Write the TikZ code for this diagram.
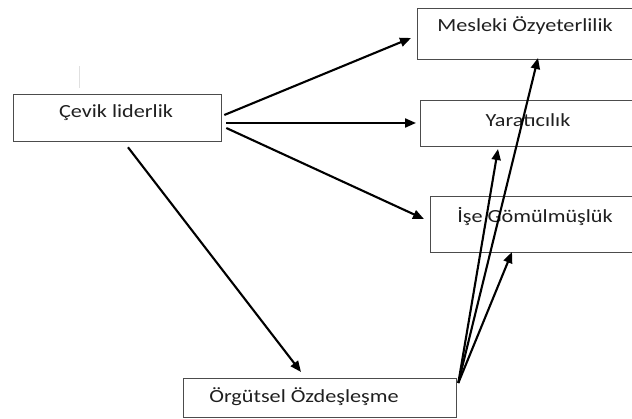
\documentclass[tikz,border=0pt]{standalone}
\usepackage{fontspec}
\setmainfont{Carlito}
\usetikzlibrary{arrows.meta,calc}
\newcommand{\widetxt}[1]{\scalebox{1.2}[1]{#1}}
\begin{document}
\begin{tikzpicture}[x=1pt,y=-1pt,
  box/.style={draw=black!70,line width=1.3pt,rectangle,inner sep=0pt,anchor=north west},
  lbl/.style={font=\fontsize{18.5}{20}\selectfont,text=black!88,inner sep=0pt},
  arr/.style={draw=black,line width=2.1pt,-{Triangle[length=11pt,width=9pt]}}]
\useasboundingbox (0,0) rectangle (632,419);
\clip (0,0) rectangle (632,419);
% faint mark
\draw[black!12,line width=1pt] (79,66) -- (79,88);
% boxes
\node[box,minimum width=208pt,minimum height=47pt] (cevik) at (13,94) {};
\node[box,minimum width=230pt,minimum height=51pt] (mes) at (417,8) {};
\node[box,minimum width=230pt,minimum height=46pt] (yar) at (420,100) {};
\node[box,minimum width=220pt,minimum height=56pt] (ise) at (430,196) {};
\node[box,minimum width=273pt,minimum height=39pt] (org) at (183,378) {};
% texts
\node[lbl] (tcevik) at (116,113) {\widetxt{Çevik liderlik}};
\node[lbl] (tmes) at (525,26) {\widetxt{Mesleki Özyeterlilik}};
\node[lbl] (tyar) at (528,120) {\widetxt{Yaratıcılık}};
\node[lbl] (tise) at (535,217) {\widetxt{İşe Gömülmüşlük}};
\node[lbl] (torg) at (304,397) {\widetxt{Örgütsel Özdeşleşme}};
% connector ends
\coordinate (c1) at ($(cevik.north east)+(2,21)$);
\coordinate (c2) at ($(cevik.north east)+(4,29)$);
\coordinate (c3) at ($(cevik.north east)+(4,34)$);
\coordinate (c4) at ($(cevik.south west)+(115,5)$);
\coordinate (e1) at ($(mes.north west)+(-6,30)$);
\coordinate (e2) at ($(yar.north west)+(-4,23)$);
\coordinate (e3) at ($(ise.north west)+(-6,23)$);
\coordinate (e4) at ($(org.north west)+(118,-6)$);
\coordinate (o) at ($(org.north east)+(1,5)$);
\coordinate (f1) at ($(mes.north west)+(121,50)$);
\coordinate (f2) at ($(yar.north west)+(78,49)$);
\coordinate (f3) at ($(ise.north west)+(82,56)$);
% connectors
\draw[arr] (c1) -- (e1);
\draw[arr] (c2) -- (e2);
\draw[arr] (c3) -- (e3);
\draw[arr] (c4) -- (e4);
\draw[arr] (o) -- (f1);
\draw[arr] (o) -- (f2);
\draw[arr] (o) -- (f3);
\end{tikzpicture}
\end{document}
